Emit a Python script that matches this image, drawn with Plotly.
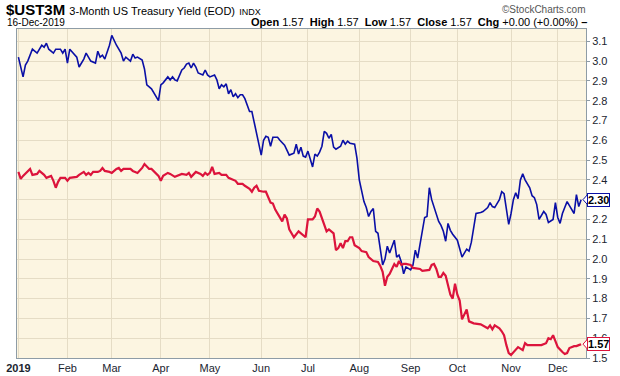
import pandas as pd
import plotly.graph_objects as go

# ---- data (trading-day number since 2 Jan 2019, yield %) ----
blue_day = [0,2,3,4,6,8,10,11,12,13,15,16,18,19,20,21,22,24,25,26,28,29,31,33,34,35,36,37,39,40,
            42,44,45,46,48,49,50,51,53,54,55,57,59,60,61,62,64,65,66,67,68,70,71,72,73,74,75,76,77,79,
            80,81,82,84,85,86,87,88,89,90,91,92,93,94,95,96,97,99,100,101,102,103,104,105,106,107,108,109,111,112,
            114,115,116,118,119,120,121,122,123,124,125,126,127,128,129,130,131,132,133,134,135,136,138,139,140,141,142,144,145,146,
            148,149,150,151,152,153,154,155,156,157,158,159,160,161,162,163,164,165,166,167,168,169,170,171,172,173,174,175,176,177,
            178,179,180,181,182,183,184,185,186,188,189,190,192,193,194,195,196,198,199,201,202,203,204,206,207,208,209,210,211,212,
            213,214,215,216,217,219,220,221,222,223,225,226,227,229,230,231,232,233,234,235,236,238,239,240,241]
blue_val = [3.02,2.92,2.98,3.00,3.06,3.04,3.08,3.07,3.09,3.06,3.04,3.06,3.06,3.04,3.06,2.99,3.06,3.035,3.02,2.97,3.01,3.04,3.00,2.99,3.05,3.02,3.03,3.01,3.08,3.13,
            3.08,3.04,3.00,3.02,3.00,3.035,3.015,3.02,3.005,2.96,2.88,2.86,2.82,2.80,2.88,2.89,2.92,2.905,2.92,2.905,2.90,2.955,2.965,2.985,2.99,2.965,2.99,2.97,2.94,2.93,
            2.955,2.93,2.92,2.93,2.905,2.86,2.88,2.87,2.885,2.835,2.855,2.82,2.835,2.815,2.83,2.83,2.81,2.745,2.745,2.69,2.64,2.58,2.525,2.60,2.62,2.615,2.57,2.615,2.615,2.60,
            2.575,2.55,2.525,2.535,2.58,2.53,2.565,2.52,2.515,2.545,2.51,2.465,2.53,2.52,2.54,2.57,2.645,2.635,2.61,2.63,2.565,2.555,2.57,2.60,2.58,2.595,2.585,2.58,2.51,2.40,
            2.29,2.26,2.215,2.24,2.255,2.14,2.13,2.055,1.97,2.00,2.065,2.03,2.06,2.095,2.01,2.02,1.985,1.925,1.96,1.95,1.945,1.97,2.045,2.005,2.08,2.155,2.21,2.215,2.36,2.30,
            2.26,2.23,2.19,2.17,2.14,2.09,2.18,2.145,2.125,2.095,2.045,2.01,2.05,2.04,2.085,2.165,2.23,2.235,2.24,2.26,2.285,2.265,2.26,2.30,2.34,2.33,2.25,2.175,2.23,2.30,
            2.335,2.305,2.40,2.43,2.40,2.36,2.32,2.31,2.275,2.20,2.24,2.225,2.185,2.20,2.285,2.21,2.18,2.23,2.26,2.29,2.27,2.23,2.325,2.265,2.30]

red_day = [0,1,2,4,5,6,8,9,11,12,14,15,16,17,18,20,21,22,25,26,28,29,30,31,32,34,35,36,37,39,
           40,42,43,44,45,48,49,51,53,54,56,57,59,60,61,62,64,65,67,69,70,72,73,74,76,78,79,80,81,82,
           83,84,86,87,89,90,91,93,94,96,97,99,100,101,102,103,105,106,108,109,110,112,113,114,115,116,118,120,121,123,
           124,126,127,128,129,131,132,133,135,136,137,138,139,140,141,142,143,144,146,147,149,150,151,152,154,155,156,157,158,159,
           160,161,162,163,164,165,166,168,169,171,172,173,175,176,177,178,179,180,181,182,183,184,185,186,187,188,189,190,191,192,
           193,195,198,201,202,203,204,206,207,208,209,210,211,213,214,216,217,218,222,224,226,227,228,229,230,231,233,234,235,236,
           238,239,240,241]
red_val = [2.44,2.405,2.42,2.445,2.455,2.425,2.43,2.445,2.425,2.41,2.42,2.395,2.36,2.39,2.41,2.41,2.395,2.41,2.415,2.425,2.44,2.425,2.435,2.425,2.44,2.44,2.445,2.46,2.445,2.44,
           2.435,2.455,2.46,2.445,2.455,2.455,2.445,2.435,2.46,2.48,2.455,2.455,2.43,2.42,2.395,2.42,2.435,2.43,2.415,2.425,2.43,2.425,2.435,2.415,2.44,2.43,2.42,2.435,2.425,2.435,
           2.465,2.43,2.435,2.425,2.425,2.41,2.405,2.395,2.38,2.38,2.37,2.355,2.34,2.36,2.37,2.345,2.34,2.34,2.285,2.28,2.25,2.21,2.19,2.225,2.205,2.15,2.11,2.14,2.13,2.11,
           2.20,2.20,2.215,2.255,2.24,2.18,2.14,2.15,2.13,2.045,2.055,2.08,2.055,2.09,2.09,2.11,2.11,2.07,2.055,2.04,2.035,2.01,2.00,1.99,1.985,1.965,1.935,1.865,1.91,1.925,
           1.95,1.975,1.96,1.99,1.97,1.975,1.975,1.97,1.955,1.95,1.95,1.94,1.945,1.945,1.97,1.975,1.95,1.91,1.91,1.93,1.915,1.87,1.82,1.80,1.875,1.82,1.79,1.695,1.72,1.745,
           1.685,1.675,1.67,1.65,1.665,1.645,1.665,1.65,1.635,1.615,1.565,1.525,1.515,1.54,1.555,1.54,1.575,1.565,1.565,1.565,1.575,1.60,1.595,1.615,1.585,1.555,1.53,1.52,1.525,1.55,
           1.56,1.56,1.565,1.57]

month_labels = ["<b>2019</b>", "Feb", "Mar", "Apr", "May", "Jun", "Jul", "Aug", "Sep", "Oct", "Nov", "Dec"]
y_ticks = [1.5, 1.6, 1.7, 1.8, 1.9, 2.0, 2.1, 2.2, 2.3, 2.4, 2.5, 2.6, 2.7, 2.8, 2.9, 3.0, 3.1]
blue_last = 2.30
red_last = 1.57

# trading calendar -> positions of first trading day of each month
holidays = pd.to_datetime(["2019-01-21", "2019-02-18", "2019-04-19", "2019-05-27",
                           "2019-07-04", "2019-09-02", "2019-11-28", "2019-12-25"])
days = pd.bdate_range("2019-01-02", "2019-12-31")
days = days[~days.isin(holidays)]
month_pos = []
seen = set()
for i, d in enumerate(days):
    if d.month not in seen:
        seen.add(d.month)
        month_pos.append(i)

BLUE = "#0A0FA6"
RED = "#DC143C"
GRID = "#E5DCC5"
BORDER = "#8E9CA6"
TXT = "#1B2530"

fig = go.Figure()
fig.add_trace(go.Scatter(x=blue_day, y=blue_val, mode="lines",
                         line=dict(color=BLUE, width=1.6), hoverinfo="skip"))
fig.add_trace(go.Scatter(x=red_day, y=red_val, mode="lines",
                         line=dict(color=RED, width=2.2), hoverinfo="skip"))

L, R, T, B = 17, 34, 29, 18
W, H = 620, 376
pw = W - L - R
ph = H - T - B

def px2paper_x(px):
    return (px - L) / pw

def px2paper_y(py):
    return (H - B - py) / ph

# hide the axis labels that the last-value flags cover completely
hidden = {f"{blue_last:.1f}"}
y_text = [("" if f"{v:.1f}" in hidden else f"{v:.1f}") for v in y_ticks]

fig.update_layout(
    width=W, height=H,
    margin=dict(l=L, r=R, t=T, b=B, pad=0, autoexpand=False),
    paper_bgcolor="white",
    plot_bgcolor="#FCF5E1",
    showlegend=False,
    font=dict(family="Liberation Sans, Arial, sans-serif", size=11, color=TXT),
    xaxis=dict(
        range=[-0.6, 243.1], automargin=False,
        tickmode="array", tickvals=month_pos[:12], ticktext=month_labels,
        showgrid=True, gridcolor=GRID, gridwidth=1,
        zeroline=False, showline=True, linecolor=BORDER, linewidth=1, mirror=True,
        ticks="", tickfont=dict(size=11, color=TXT),
    ),
    yaxis=dict(
        side="right", range=[1.5, 3.162], automargin=False,
        tickmode="array", tickvals=y_ticks, ticktext=y_text,
        showgrid=True, gridcolor=GRID, gridwidth=1,
        zeroline=False, showline=True, linecolor=BORDER, linewidth=1, mirror=True,
        ticks="outside", ticklen=3, tickcolor=BORDER,
        tickfont=dict(size=11, color=TXT),
    ),
)

# header text
fig.add_annotation(xref="paper", yref="paper", x=px2paper_x(4), y=px2paper_y(20),
                   xanchor="left", yanchor="bottom", showarrow=False,
                   text='<b>$UST3M</b> <span style="font-size:11px">3-Month US Treasury Yield (EOD)</span>'
                        ' <span style="font-size:9px">INDX</span>',
                   font=dict(size=15, color="#000"))
fig.add_annotation(xref="paper", yref="paper", x=px2paper_x(5), y=px2paper_y(22),
                   xanchor="left", yanchor="middle", showarrow=False,
                   text="16-Dec-2019", font=dict(size=10, color="#000"))
fig.add_annotation(xref="paper", yref="paper", x=px2paper_x(588), y=px2paper_y(9),
                   xanchor="right", yanchor="middle", showarrow=False,
                   text="©StockCharts.com", font=dict(size=10, color="#555"))
fig.add_annotation(xref="paper", yref="paper", x=px2paper_x(589), y=px2paper_y(22),
                   xanchor="right", yanchor="middle", showarrow=False,
                   text="<b>Open</b> 1.57  <b>High</b> 1.57  <b>Low</b> 1.57  <b>Close</b> 1.57  "
                        "<b>Chg</b> +0.00 (+0.00%) <b>–</b>",
                   font=dict(size=11, color="#000"))

# last-value flags on the right axis
for val, col in [(blue_last, BLUE), (red_last, RED)]:
    fig.add_annotation(xref="paper", yref="y", x=px2paper_x(587), y=val,
                       xanchor="left", yanchor="middle", showarrow=False,
                       text=f"<b>{val:.2f}</b>", font=dict(size=11, color="#000"),
                       bgcolor="white", bordercolor=col, borderwidth=1, borderpad=0)
    dy = 5 / 198
    x0 = px2paper_x(587.5)
    x1 = px2paper_x(583)
    fig.add_shape(type="path", xref="paper", yref="y", layer="above",
                  path=f"M {x0},{val + dy} L {x1},{val} L {x0},{val - dy} Z",
                  fillcolor="white", line=dict(color=col, width=1))

fig.write_html("out.html", config={"displayModeBar": False},
               post_script="document.body.style.margin='0px';")
